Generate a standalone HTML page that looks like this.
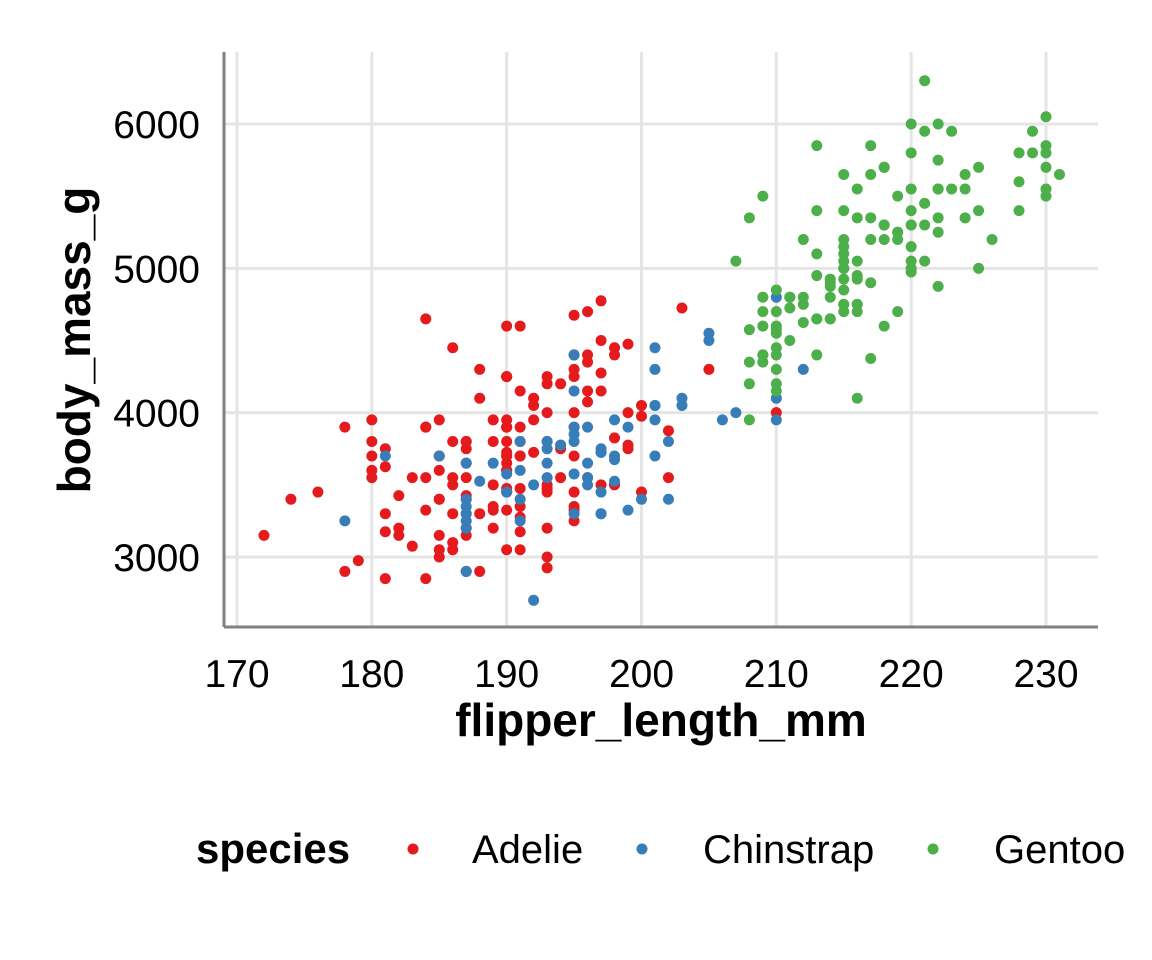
<!DOCTYPE html>
<html><head><meta charset="utf-8"><style>
html,body{margin:0;padding:0;background:#fff}
svg{display:block;font-family:"Liberation Sans",Arial,sans-serif}
</style></head><body>
<svg id="chart" width="1152" height="960" viewBox="0 0 1152 960" xmlns="http://www.w3.org/2000/svg">
<g id="grid"></g>
<g id="points"></g>
<line x1="224" y1="52" x2="224" y2="627" stroke="#808080" stroke-width="3"/>
<line x1="224" y1="627" x2="1098" y2="627" stroke="#808080" stroke-width="3"/>
<g id="xticks"></g>
<g id="yticks"></g>
<text x="661" y="736" font-size="46" font-weight="bold" text-anchor="middle">flipper_length_mm</text>
<text transform="translate(90,340) rotate(-90)" font-size="46" font-weight="bold" text-anchor="middle">body_mass_g</text>
<g>
<text x="196" y="863" font-size="42" font-weight="bold">species</text>
<g><circle cx="413" cy="849" r="5.5" fill="#E41A1C"/><text x="472" y="863" font-size="40">Adelie</text></g>
<g><circle cx="642" cy="849" r="5.5" fill="#377EB8"/><text x="703" y="863" font-size="40">Chinstrap</text></g>
<g><circle cx="933" cy="849" r="5.5" fill="#4DAF4A"/><text x="994" y="863" font-size="40">Gentoo</text></g>
</g>
</svg>
<script>
const xTicks=[170,180,190,200,210,220,230];
const yTicks=[3000,4000,5000,6000];
const adelie=[[181,3750],[186,3800],[195,3250],[193,3450],[190,3650],[181,3625],[195,4675],[193,3475],[190,4250],[186,3300],[180,3700],[182,3200],[191,3800],[198,4400],[185,3700],[195,3450],[197,4500],[184,3325],[194,4200],[174,3400],[180,3600],[189,3800],[185,3950],[180,3800],[187,3800],[183,3550],[187,3200],[172,3150],[180,3950],[178,3900],[188,3300],[184,3900],[195,3325],[196,4150],[190,3950],[180,3550],[181,3300],[184,4650],[182,3150],[195,3900],[186,3100],[196,4400],[185,3000],[190,4600],[182,3425],[179,2975],[190,3450],[191,4150],[186,3500],[188,4300],[190,3450],[200,4050],[187,2900],[191,3700],[186,3550],[193,3800],[181,2850],[194,3750],[185,3150],[195,4400],[185,3600],[192,4050],[184,2850],[192,3950],[195,3350],[188,4100],[190,3050],[198,4450],[190,3600],[190,3900],[196,3550],[197,4150],[190,3700],[195,4250],[191,3700],[184,3900],[187,3550],[195,4000],[189,3200],[196,4700],[187,3800],[193,4200],[191,3350],[194,3550],[190,3800],[189,3500],[189,3950],[190,3600],[202,3550],[205,4300],[185,3400],[186,4450],[187,3300],[190,3700],[196,4350],[178,2900],[192,4100],[192,3725],[203,4725],[183,3075],[190,4250],[193,2925],[184,3550],[199,3750],[190,3900],[181,3175],[197,4775],[198,3825],[191,4600],[193,3200],[197,4275],[191,3900],[196,4075],[188,2900],[199,3775],[189,3350],[189,3325],[187,3150],[198,3500],[176,3450],[202,3875],[186,3050],[199,4000],[191,3275],[195,4300],[191,3050],[210,4000],[190,3325],[197,3500],[193,3500],[199,4475],[187,3425],[190,3900],[191,3175],[200,3975],[185,3400],[193,4250],[187,3400],[190,3475],[185,3050],[190,3725],[193,3000],[187,3650],[190,4250],[191,3475],[200,3450],[187,3750],[195,3700],[193,4000]];
const chinstrap=[[192,3500],[196,3900],[193,3650],[188,3525],[197,3725],[198,3950],[178,3250],[197,3750],[195,4150],[198,3700],[193,3800],[194,3775],[185,3700],[201,4050],[190,3575],[201,4050],[197,3300],[181,3700],[190,3450],[195,4400],[191,3600],[187,3400],[187,2900],[195,3800],[197,3300],[200,3400],[191,3800],[187,3200],[201,4450],[187,3350],[203,4100],[195,3900],[199,3900],[195,3850],[210,3950],[192,2700],[205,4550],[210,4800],[187,3650],[196,3650],[196,3550],[196,3500],[201,4300],[212,4300],[187,3250],[198,3525],[199,3325],[201,3950],[193,3550],[203,4050],[187,3300],[197,3450],[191,3250],[202,3400],[194,3775],[206,3950],[189,3650],[195,3300],[207,4000],[202,3800],[193,3750],[210,4100],[198,3675],[205,4500],[197,3725],[191,3400],[195,3575],[201,3700]];
const gentoo=[[211,4500],[230,5700],[210,4450],[218,5700],[215,5400],[210,4550],[211,4800],[219,5200],[209,4400],[215,5150],[214,4650],[216,5550],[214,4650],[213,5850],[210,4200],[217,5850],[210,4150],[221,6300],[209,4800],[222,5350],[218,5700],[215,5000],[213,4400],[215,5050],[215,5000],[215,5100],[216,4100],[215,5650],[210,4600],[220,5550],[222,5250],[209,4700],[207,5050],[230,6050],[220,5150],[220,5400],[213,4950],[219,5250],[208,4350],[208,5350],[208,3950],[225,5700],[210,4300],[216,4750],[222,5550],[217,4900],[214,4800],[220,5300],[215,4850],[213,5400],[222,6000],[209,5500],[217,5200],[221,5450],[222,5750],[211,4800],[216,4700],[214,4925],[218,4600],[224,5350],[209,4350],[221,5300],[220,4975],[224,5550],[220,6000],[228,5600],[212,4625],[221,5950],[212,5200],[230,5800],[210,4400],[219,4700],[216,5350],[209,4600],[218,5300],[215,4750],[223,5550],[217,4375],[225,5400],[222,4875],[215,4750],[225,5000],[212,4750],[216,5050],[230,5550],[217,5350],[216,4750],[220,5050],[214,4875],[228,5800],[210,4850],[213,5100],[228,5400],[218,5300],[210,4700],[220,5000],[223,5950],[216,4950],[226,5200],[222,5550],[224,5650],[229,5950],[219,5500],[215,4925],[220,5300],[208,4575],[231,5650],[219,5250],[213,4650],[209,4400],[230,5850],[217,5650],[229,5800],[218,5200],[211,4725],[212,4800],[214,4900],[213,4650],[221,5050],[215,4700],[230,5500],[216,4925],[210,4575],[215,5200],[220,5800],[208,4200]];
const X=v=>237+(v-170)*(1046-237)/60;
const Y=v=>557-(v-3000)*(557-124)/3000;
const NS="http://www.w3.org/2000/svg";
const grid=document.getElementById('grid'),pts=document.getElementById('points');
xTicks.forEach(t=>{
 const l=document.createElementNS(NS,'line');
 
 
 l.setAttribute('x1',X(t));l.setAttribute('x2',X(t));l.setAttribute('y1',52);l.setAttribute('y2',627);
 l.setAttribute('stroke','#e5e5e5');l.setAttribute('stroke-width','3');grid.appendChild(l);
 const tx=document.createElementNS(NS,'text');
 
 
 tx.setAttribute('x',X(t));tx.setAttribute('y',687);tx.setAttribute('font-size','39');tx.setAttribute('text-anchor','middle');
 tx.textContent=t;document.getElementById('xticks').appendChild(tx);
});
yTicks.forEach(t=>{
 const l=document.createElementNS(NS,'line');
 
 
 l.setAttribute('x1',224);l.setAttribute('x2',1098);l.setAttribute('y1',Y(t));l.setAttribute('y2',Y(t));
 l.setAttribute('stroke','#e5e5e5');l.setAttribute('stroke-width','3');grid.appendChild(l);
 const tx=document.createElementNS(NS,'text');
 
 
 tx.setAttribute('x',200);tx.setAttribute('y',Y(t)+14);tx.setAttribute('font-size','39');tx.setAttribute('text-anchor','end');
 tx.textContent=t;document.getElementById('yticks').appendChild(tx);
});
[[adelie,'#E41A1C','adelie'],[chinstrap,'#377EB8','chinstrap'],[gentoo,'#4DAF4A','gentoo']].forEach(([d,c,n])=>{
 d.forEach(p=>{
  const ci=document.createElementNS(NS,'circle');
  
  
  ci.setAttribute('cx',X(p[0]));ci.setAttribute('cy',Y(p[1]));ci.setAttribute('r','5.5');ci.setAttribute('fill',c);
  pts.appendChild(ci);
 });
});
</script>
</body></html>
